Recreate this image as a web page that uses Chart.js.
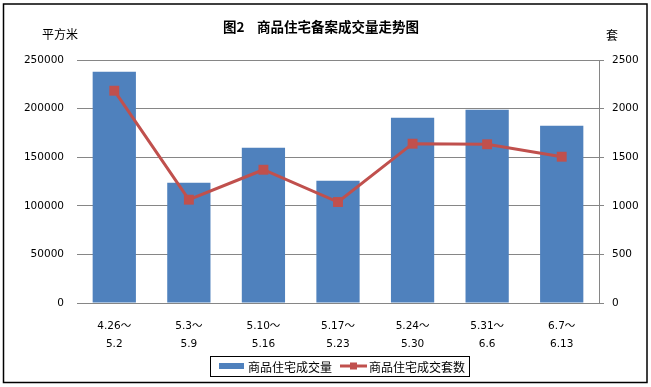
<!DOCTYPE html>
<html>
<head>
<meta charset="utf-8">
<script src="https://cdn.jsdelivr.net/npm/chart.js@4/dist/chart.umd.min.js"></script>
<style>
  html, body { margin: 0; padding: 0; background: #fff; }
  #wrap { width: 651px; height: 387px; position: relative; }
</style>
</head>
<body>
<div id="wrap"><canvas id="grafico" width="651" height="387"></canvas></div>
<script>
// datos del gráfico
const semanas = [["4.26～", "5.2"], ["5.3～", "5.9"], ["5.10～", "5.16"], ["5.17～", "5.23"], ["5.24～", "5.30"], ["5.31～", "6.6"], ["6.7～", "6.13"]];
const area = [238000, 123800, 159800, 125800, 190600, 198900, 182400];
const taoshu = [2184, 1063, 1371, 1039, 1639, 1633, 1505];
const ticksArea = [0, 50000, 100000, 150000, 200000, 250000];
const ticksTao = [0, 500, 1000, 1500, 2000, 2500];

const tituloNum = "图2";
const titulo = "商品住宅备案成交量走势图";
const labelArea = "商品住宅成交量";
const labelTao = "商品住宅成交套数";

const azul = "#4F81BD";
const rojo = "#C0504D";
const gris = "#868686";

Chart.defaults.font.family = '"DejaVu Sans", "Noto Sans CJK SC", sans-serif';
Chart.defaults.font.size = 10.5;
Chart.defaults.color = "#000";

// titulo, unidades, leyenda y borde
const extras = {
  id: "extras",
  afterDraw(chart) {
    const ctx = chart.ctx;
    ctx.save();
    ctx.strokeStyle = "#000";
    ctx.lineWidth = 1.5;
    ctx.strokeRect(3.5, 4, 643.5, 378.5);

    ctx.fillStyle = "#000";
    ctx.textBaseline = "middle";
    ctx.textAlign = "left";
    ctx.font = 'bold 13.5px "Noto Sans CJK SC", "DejaVu Sans", sans-serif';
    ctx.fillText(tituloNum, 223, 27);
    ctx.fillText(titulo, 257, 27);

    ctx.font = '12px "Noto Sans CJK SC", sans-serif';
    ctx.fillText("平方米", 42, 34);
    ctx.fillText("套", 606, 35);

    // leyenda
    ctx.lineWidth = 1;
    ctx.strokeRect(210.5, 356.5, 259, 20);
    ctx.fillStyle = azul;
    ctx.fillRect(219, 363, 25, 6);
    ctx.strokeStyle = rojo;
    ctx.lineWidth = 3;
    ctx.beginPath();
    ctx.moveTo(340, 366);
    ctx.lineTo(367, 366);
    ctx.stroke();
    ctx.fillStyle = rojo;
    ctx.fillRect(350, 362.5, 7, 7);
    ctx.fillStyle = "#000";
    ctx.fillText(labelArea, 248, 367);
    ctx.fillText(labelTao, 369, 367);
    ctx.restore();
  }
};

const graficoConversion = document.getElementById("grafico");
new Chart(graficoConversion, {
  data: {
    labels: semanas,
    datasets: [
      {
        type: "line",
        label: labelTao,
        data: taoshu,
        yAxisID: "y1",
        borderColor: rojo,
        backgroundColor: rojo,
        borderWidth: 3,
        pointStyle: "rect",
        pointRadius: 7,
        pointBorderWidth: 0,
        order: 0
      },
      {
        type: "bar",
        label: labelArea,
        data: area,
        yAxisID: "y",
        backgroundColor: azul,
        barPercentage: 0.58,
        categoryPercentage: 1,
        order: 1
      }
    ]
  },
  options: {
    responsive: false,
    animation: false,
    layout: { padding: { top: 60, bottom: 4, left: 0, right: 0 } },
    plugins: {
      legend: { display: false },
      title: { display: false },
      tooltip: { enabled: false }
    },
    scales: {
      x: {
        offset: true,
        grid: { display: false },
        border: { display: false },
        ticks: { padding: 6, maxRotation: 0, autoSkip: false, font: { lineHeight: 1.7 } },
        afterFit(s) { s.height = 80; }
      },
      y: {
        position: "left",
        min: 0,
        max: 250000,
        afterBuildTicks(s) { s.ticks = ticksArea.map(v => ({ value: v })); },
        grid: { color: gris, drawTicks: false },
        border: { display: false },
        ticks: { padding: 13, callback: v => String(v) },
        afterFit(s) { s.width = 77; }
      },
      y1: {
        position: "right",
        min: 0,
        max: 2500,
        afterBuildTicks(s) { s.ticks = ticksTao.map(v => ({ value: v })); },
        grid: { drawOnChartArea: false, color: gris, tickLength: 5 },
        border: { display: true, color: gris },
        ticks: { padding: 8, callback: v => String(v) },
        afterFit(s) { s.width = 52; }
      }
    }
  },
  plugins: [extras]
});
</script>
</body>
</html>
